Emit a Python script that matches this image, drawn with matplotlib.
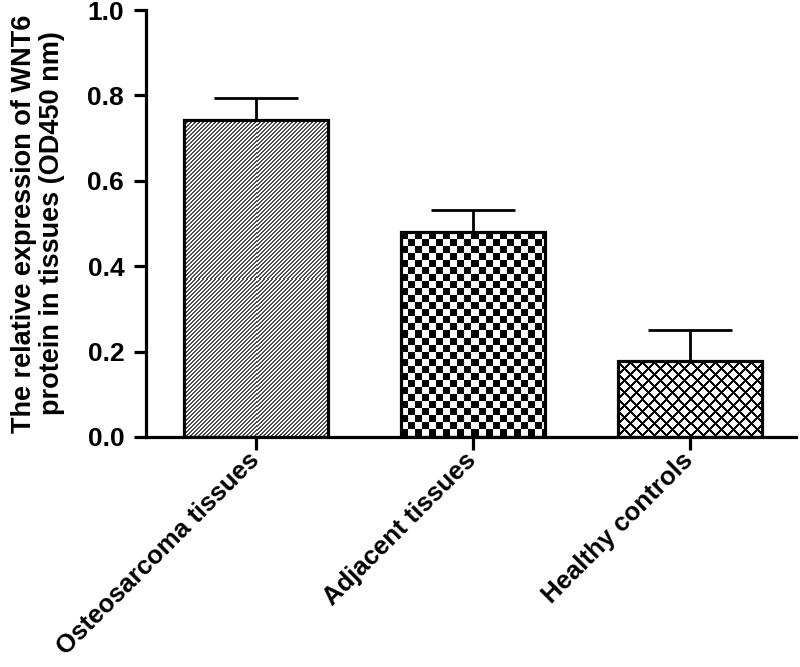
import numpy as np
import matplotlib
matplotlib.use('Agg')
import matplotlib.pyplot as plt

plt.rcParams['font.family'] = ['Liberation Sans', 'DejaVu Sans']
plt.rcParams['font.weight'] = 'bold'

categories = ['Osteosarcoma tissues', 'Adjacent tissues', 'Healthy controls']
means = [0.742, 0.480, 0.178]
errors = [0.052, 0.052, 0.073]

y_ticks = [0.0, 0.2, 0.4, 0.6, 0.8, 1.0]
y_label = 'The relative expression of WNT6\nprotein in tissues (OD450 nm)'


def diagonal(h, w, period=4):
    i, j = np.mgrid[0:h, 0:w]
    return np.where((i + j) % period < 1.5, 0.3, 1.0)


def checker(h, w, cell=7):
    i, j = np.mgrid[0:h, 0:w]
    return ((i // cell + j // cell) % 2).astype(float)


def crosshatch(h, w, period=12, thick=3):
    i, j = np.mgrid[0:h, 0:w]
    d1 = (i + j) % period
    d2 = (i - j) % period
    return np.where((d1 < thick) | (d2 < thick), 0.0, 1.0)


def fill_pattern(ax, bar, maker):
    # paint a pixel texture inside the bar, clipped to its outline
    x0, y0 = bar.get_x(), bar.get_y()
    x1, y1 = x0 + bar.get_width(), y0 + bar.get_height()
    p0 = ax.transData.transform((x0, y0))
    p1 = ax.transData.transform((x1, y1))
    w = max(int(abs(p1[0] - p0[0])), 1)
    h = max(int(abs(p1[1] - p0[1])), 1)
    img = maker(h, w)
    im = ax.imshow(img, cmap='gray', vmin=0, vmax=1, extent=(x0, x1, y0, y1),
                   aspect='auto', interpolation='nearest', zorder=1)
    im.set_clip_path(bar)


fig = plt.figure(figsize=(8, 6.67), dpi=100)
ax = fig.add_axes([0.183, 0.345, 0.812, 0.64])

x = np.arange(len(categories))
width = 0.665

ax.set_xlim(-0.505, 2.49)
ax.set_ylim(0, 1.0)

bars = ax.bar(x, means, width=width, color='white', edgecolor='none', zorder=0.5)
fill_pattern(ax, bars[0], diagonal)
fill_pattern(ax, bars[1], checker)
fill_pattern(ax, bars[2], crosshatch)

# outlines
ax.bar(x, means, width=width, fill=False, edgecolor='black', linewidth=2.3, zorder=2)

# upper error bars only
ax.errorbar(x, means, yerr=[np.zeros(len(means)), errors], fmt='none',
            ecolor='black', elinewidth=2.0, capsize=30, capthick=2.0, zorder=3)

ax.set_xlim(-0.505, 2.49)
ax.set_ylim(0, 1.0)

ax.spines['top'].set_visible(False)
ax.spines['right'].set_visible(False)
ax.spines['left'].set_linewidth(2.3)
ax.spines['bottom'].set_linewidth(2.3)

ax.set_yticks(y_ticks)
ax.set_yticklabels(['{:.1f}'.format(v) for v in y_ticks], fontsize=19, fontweight='bold')
ax.set_xticks(x)
ax.set_xticklabels(categories, rotation=45, ha='right', va='center',
                   rotation_mode='anchor', fontsize=18.5, fontweight='bold')
ax.tick_params(axis='y', direction='out', length=9, width=2.3, pad=7)
ax.tick_params(axis='x', direction='out', length=9, width=2.3, pad=5)

ax.set_ylabel(y_label, fontsize=19.5, fontweight='bold', linespacing=1.1)
ax.yaxis.set_label_coords(-0.125, 0.5)

fig.savefig('out.png', dpi=100)
